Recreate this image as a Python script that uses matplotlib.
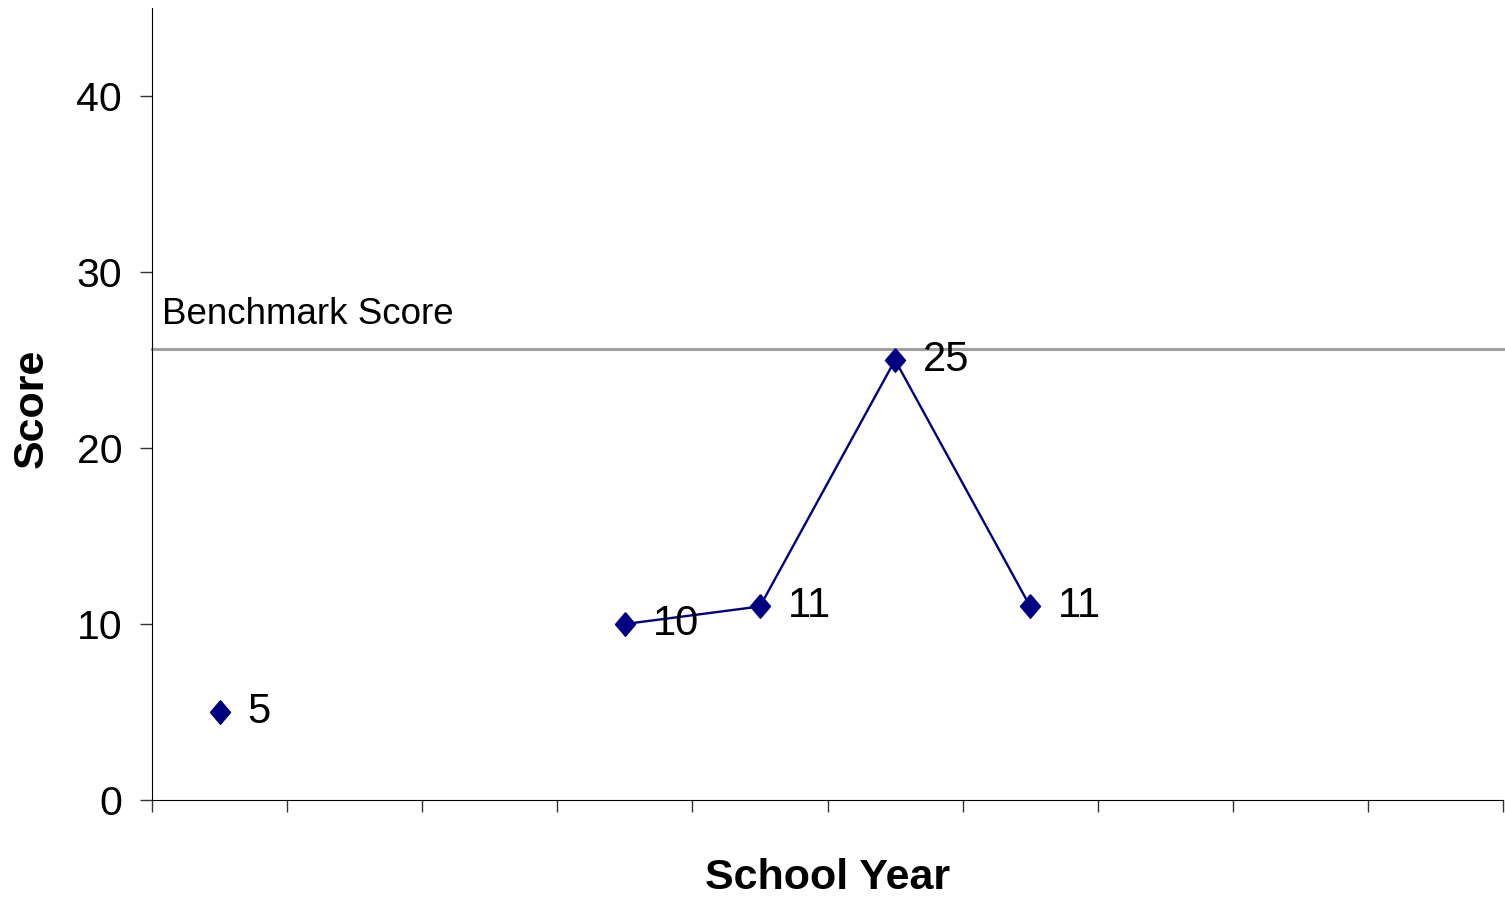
import numpy as np
import matplotlib
matplotlib.use('Agg')
import matplotlib.pyplot as plt

plt.rcParams['font.family'] = ['Liberation Sans', 'DejaVu Sans']

# School years (category labels are blank on the original chart)
categories = [''] * 10
scores = [5, np.nan, np.nan, 10, 11, 25, 11, np.nan, np.nan, np.nan]
benchmark = 25.6
yticks = [0, 10, 20, 30, 40]

fig = plt.figure(figsize=(15.05, 8.98), dpi=100)
ax = fig.add_axes([0.101, 0.1091, 0.8977, 0.8819])

x = np.arange(len(categories))
diamond = [(0, 1), (0.85, 0), (0, -1), (-0.85, 0), (0, 1)]

ax.axhline(benchmark, color='#a0a0a0', lw=2.2, zorder=1, clip_on=False)
ax.plot(x, scores, color='#000080', lw=1.7, marker=diamond, markersize=17,
        markerfacecolor='#000080', markeredgecolor='#000080', zorder=3)

for xi, v in zip(x, scores):
    if not np.isnan(v):
        ax.annotate(f'{v:g}', xy=(xi, v), xytext=(20, 0), textcoords='offset points',
                    ha='left', va='center', fontsize=30, zorder=4)

ax.annotate('Benchmark Score', xy=(0, benchmark), xycoords=('axes fraction', 'data'),
            xytext=(7, 18.5), textcoords='offset points', ha='left', va='baseline',
            fontsize=26.5)

ax.set_xlim(-0.5, len(categories) - 0.5)
ax.set_ylim(0, 45)
ax.set_xticks(np.arange(len(categories) + 1) - 0.5)
ax.set_xticklabels([''] * (len(categories) + 1))
ax.set_yticks(yticks)
ax.set_yticklabels([str(t) for t in yticks])

ax.spines['top'].set_visible(False)
ax.spines['right'].set_visible(False)
ax.tick_params(axis='both', direction='out', length=8.5, width=1, color='#333333')
ax.tick_params(axis='y', labelsize=29.5, pad=13)

ax.set_xlabel('School Year', fontsize=31, fontweight='bold')
ax.set_ylabel('Score', fontsize=31, fontweight='bold')
ax.xaxis.set_label_coords(0.5, -0.073)
ax.yaxis.set_label_coords(-0.074, 0.495)

fig.savefig('out.png', dpi=100)
